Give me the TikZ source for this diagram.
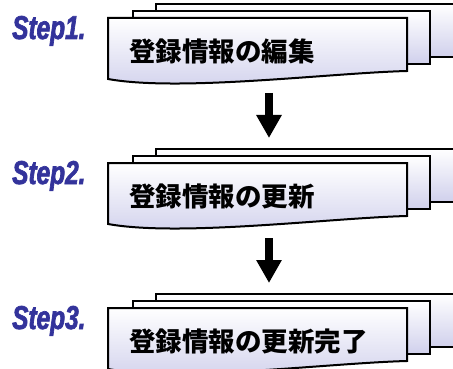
\documentclass[tikz,border=0pt]{standalone}
\usepackage{fontspec}
\newfontfamily\cjk{Noto Sans CJK JP}
\newfontfamily\stepfont{Liberation Sans}[FakeStretch=0.74,FakeBold=2]
\usetikzlibrary{arrows.meta}
\definecolor{stepblue}{RGB}{51,51,155}
\definecolor{sheetbot}{RGB}{208,208,236}
\tikzset{
  sheet/.style={draw=black, line width=2pt, top color=white, bottom color=sheetbot, line join=miter},
  steplabel/.style={anchor=base west, inner sep=0pt, text=stepblue, font=\stepfont\bfseries\itshape\fontsize{33}{33}\selectfont},
  boxtext/.style={anchor=west, inner sep=0pt, font=\cjk\bfseries\fontsize{26.5}{26.5}\selectfont},
  flowarrow/.style={line width=8pt, -{Triangle[width=24pt,length=23pt]}, shorten >=0pt}
}
\newcommand{\stepgroup}[3]{%
  \begin{scope}[yshift={-#1pt}]
    \path[sheet] (156,4) -- (470,4) -- (470,57) -- (156,57) -- cycle;
    \path[sheet] (133,11) -- (430,11) -- (430,64) -- (133,64) -- cycle;
    \path[sheet] (108,18) -- (407,18) -- (407,71) .. controls (330,73) and (180,92) .. (108,79) -- cycle;
    \node[boxtext] (#3) at (129,51) {#2};
  \end{scope}}
\begin{document}
\begin{tikzpicture}[x=1pt,y=-1pt]
\useasboundingbox (0,0) rectangle (453,369);
\clip (0,0) rectangle (453,369);
\fill[white] (0,0) rectangle (453,369);
\stepgroup{0}{登録情報の編集}{t1}
\stepgroup{145}{登録情報の更新}{t2}
\stepgroup{290}{登録情報の更新完了}{t3}
\node[steplabel] (s1) at (12,39) {Step1.};
\node[steplabel] (s2) at (12,184) {Step2.};
\node[steplabel] (s3) at (12,329) {Step3.};
\coordinate (a1s) at (269,93);
\coordinate (a1e) at (269,138);
\coordinate (a2s) at (269,238);
\coordinate (a2e) at (269,283);
\draw[flowarrow] (a1s) -- (a1e);
\draw[flowarrow] (a2s) -- (a2e);
\end{tikzpicture}
\end{document}
